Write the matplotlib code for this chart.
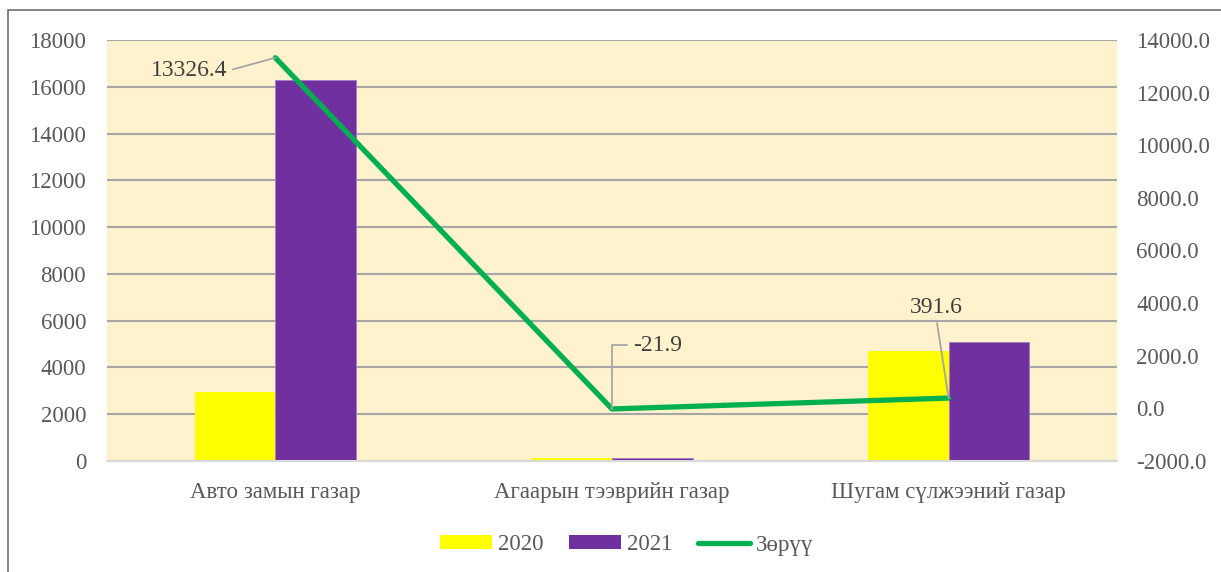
import numpy as np
import matplotlib
matplotlib.use("Agg")
import matplotlib.pyplot as plt
from matplotlib.patches import Rectangle, Patch
from matplotlib.lines import Line2D

categories = ["Авто замын газар", "Агаарын тээврийн газар", "Шугам сүлжээний газар"]
values_2020 = [2963.6, 130.0, 4700.0]
values_2021 = [16290.0, 108.1, 5091.6]
diff = [13326.4, -21.9, 391.6]
diff_labels = ["13326.4", "-21.9", "391.6"]
left_ticks = list(range(0, 18001, 2000))
right_ticks = list(range(-2000, 14001, 2000))

plt.rcParams["font.family"] = ["Liberation Serif", "DejaVu Serif"]

fig = plt.figure(figsize=(12.21, 5.72), dpi=100)
ax = fig.add_axes([107 / 1221, 1 - 461 / 572, 1010 / 1221, 421 / 572])
ax2 = ax.twinx()

# chart frame (cut off at right and bottom like the source)
fig.patches.append(Rectangle((8 / 1221, -0.1), 1.2, 1.1 - 10 / 572,
                             transform=fig.transFigure, fill=False,
                             edgecolor="#6F6F6F", linewidth=1.2))

x = np.arange(len(categories))
w = 0.24
ax.set_facecolor("#FFF2CC")
ax.bar(x - w / 2, values_2020, w, color="#FFFF00", zorder=2)
ax.bar(x + w / 2, values_2021, w, color="#7030A0", edgecolor="#9E7CC0",
       linewidth=0.6, zorder=2)

ax.set_xlim(-0.5, 2.5)
ax.set_ylim(0, 18000)
ax.set_yticks(left_ticks)
ax.yaxis.grid(True, color="#A6A6A6", linewidth=1.5, zorder=0)
ax.set_axisbelow(True)
ax.set_xticks(x)
ax.set_xticklabels(categories)
for s in ["top", "left", "right"]:
    ax.spines[s].set_visible(False)
ax.spines["bottom"].set_color("#D9D9D9")
ax.spines["bottom"].set_linewidth(1.5)
ax.tick_params(axis="both", length=0, labelsize=16.5, colors="#595959")
ax.tick_params(axis="x", pad=15)
ax.tick_params(axis="y", pad=15)

ax2.plot(x, diff, color="#00B050", linewidth=3.8, solid_capstyle="round", zorder=3)
ax2.set_ylim(-2000, 14000)
ax2.set_yticks(right_ticks)
ax2.set_yticklabels([f"{v:.1f}" for v in right_ticks])
ax2.tick_params(axis="y", length=0, labelsize=16.5, colors="#595959", pad=14)
for s in ax2.spines.values():
    s.set_visible(False)

# data labels with leader lines
lead = dict(arrowstyle="-", color="#A6A6A6", linewidth=1.3, shrinkA=2, shrinkB=0)
ax2.annotate(diff_labels[0], (x[0], diff[0]), xytext=(-62, -9.5),
             textcoords="offset points", ha="center", va="center",
             fontsize=17, color="#404040",
             arrowprops=dict(lead, relpos=(1, 0.5)))
ax2.annotate(diff_labels[1], (x[1], diff[1]), xytext=(15, 46),
             textcoords="offset points", ha="left", va="center",
             fontsize=17, color="#404040",
             arrowprops=dict(lead, relpos=(0, 0.5),
                             connectionstyle="angle,angleA=0,angleB=90,rad=0"))
ax2.annotate(diff_labels[2], (x[2], diff[2]), xytext=(-9, 65.5),
             textcoords="offset points", ha="center", va="center",
             fontsize=17, color="#404040",
             arrowprops=dict(lead, relpos=(0.5, 0)))

handles = [Patch(facecolor="#FFFF00"), Patch(facecolor="#7030A0"),
           Line2D([], [], color="#00B050", linewidth=3.8, solid_capstyle="round")]
fig.legend(handles, ["2020", "2021", "Зөрүү"], loc="center",
           bbox_to_anchor=(0.5 + 16 / 1221, 1 - 545 / 572), ncol=3, frameon=False,
           fontsize=16.5, labelcolor="#595959", handlelength=2.3,
           handleheight=0.55, handletextpad=0.25, columnspacing=1.1)

fig.savefig("out.png", dpi=100)
